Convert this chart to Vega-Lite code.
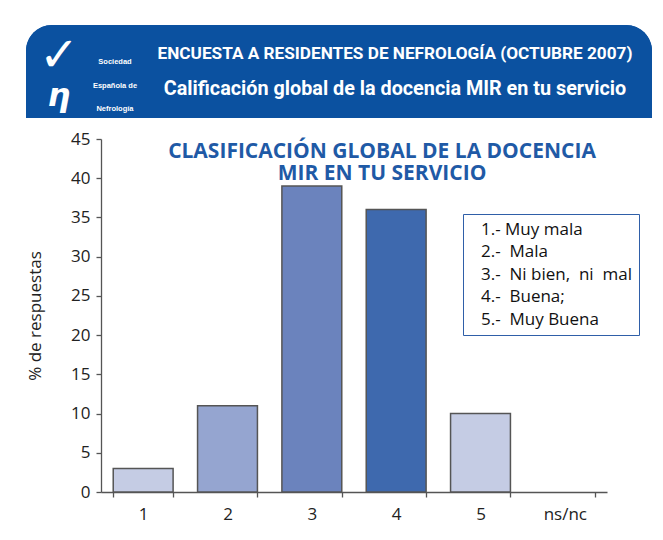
{
  "$schema": "https://vega.github.io/schema/vega-lite/v6.json",
  "padding": {"left": 26, "top": 25, "right": 0, "bottom": 0},
  "background": "white",
  "columns": 1,
  "spacing": 12,
  "align": "none",
  "bounds": "full",
  "resolve": {
    "scale": {"x": "independent", "y": "independent", "size": "independent", "color": "independent"},
    "legend": {"color": "independent", "size": "independent"}
  },
  "config": {"view": {"stroke": null}, "font": "Open Sans"},
  "datasets": {
    "logo": [{"simbolo": "✓"}, {"simbolo": "η"}],
    "sociedad": [
      {"orden": 1, "linea": "Sociedad"},
      {"orden": 2, "linea": "Española de"},
      {"orden": 3, "linea": "Nefrología"}
    ],
    "cabecera": [
      {"linea": 1, "texto": "ENCUESTA A RESIDENTES DE NEFROLOGÍA (OCTUBRE 2007)"},
      {"linea": 2, "texto": "Calificación global de la docencia MIR en tu servicio"}
    ],
    "respuestas": [
      {"calificacion": "1", "leyenda": "1.- Muy mala", "pct": 3},
      {"calificacion": "2", "leyenda": "2.- \u00a0Mala", "pct": 11},
      {"calificacion": "3", "leyenda": "3.- \u00a0Ni bien, \u00a0ni \u00a0mal", "pct": 39},
      {"calificacion": "4", "leyenda": "4.- \u00a0Buena;", "pct": 36},
      {"calificacion": "5", "leyenda": "5.- \u00a0Muy Buena", "pct": 10},
      {"calificacion": "ns/nc", "leyenda": "ns/nc", "pct": 0}
    ]
  },
  "concat": [
    {
      "spacing": 0,
      "bounds": "flush",
      "resolve": {"scale": {"y": "independent", "size": "independent"}},
      "hconcat": [
        {
          "width": 66,
          "height": 93,
          "data": {"name": "logo"},
          "layer": [
            {"mark": {"type": "rect", "color": "#0b51a0", "cornerRadiusTopLeft": 26}, "encoding": {}},
            {
              "mark": {"type": "text", "color": "white", "font": "DejaVu Sans", "fontWeight": "bold", "fontStyle": "italic"},
              "encoding": {
                "text": {"field": "simbolo"},
                "y": {"field": "simbolo", "type": "ordinal", "sort": ["✓", "η"], "axis": null, "scale": {"padding": 0.692, "align": 0.593}},
                "size": {"field": "simbolo", "type": "ordinal", "scale": {"domain": ["✓", "η"], "range": [48, 32]}, "legend": null}
              }
            }
          ]
        },
        {
          "width": 46,
          "height": 93,
          "data": {"name": "sociedad"},
          "layer": [
            {"mark": {"type": "rect", "color": "#0b51a0"}, "encoding": {}},
            {
              "mark": {"type": "text", "color": "white", "fontSize": 7.5, "fontWeight": "bold", "font": "Liberation Sans"},
              "encoding": {
                "text": {"field": "linea"},
                "y": {"field": "orden", "type": "ordinal", "axis": null, "scale": {"padding": 3.227, "align": 0.803}}
              }
            }
          ]
        },
        {
          "width": 514,
          "height": 93,
          "data": {"name": "cabecera"},
          "layer": [
            {"mark": {"type": "rect", "color": "#0b51a0", "cornerRadiusTopRight": 26}, "encoding": {}},
            {
              "mark": {"type": "text", "color": "white", "fontWeight": "bold", "font": "Roboto"},
              "encoding": {
                "text": {"field": "texto"},
                "y": {"field": "linea", "type": "ordinal", "axis": null, "scale": {"padding": 0.85}},
                "size": {"field": "linea", "type": "ordinal", "scale": {"domain": [1, 2], "range": [17.2, 19.8]}, "legend": null}
              }
            }
          ]
        }
      ]
    },
    {
      "spacing": 0,
      "bounds": "flush",
      "resolve": {"scale": {"y": "independent"}},
      "data": {"name": "respuestas"},
      "transform": [{"filter": "datum.pct > 0"}],
      "hconcat": [
        {
          "width": 75,
          "height": 353,
          "mark": {"type": "point", "opacity": 0},
          "encoding": {
            "y": {
              "field": "pct",
              "type": "quantitative",
              "scale": {"domain": [0, 45], "nice": false},
              "axis": {
                "title": "% de respuestas",
                "offset": -75,
                "titleFont": "Open Sans",
                "titleFontSize": 17,
                "titleFontWeight": "normal",
                "titleColor": "#222222",
                "titlePadding": 26,
                "values": [0, 5, 10, 15, 20, 25, 30, 35, 40, 45],
                "labelFontSize": 17,
                "labelFont": "Open Sans",
                "labelColor": "#222222",
                "labelPadding": 6,
                "tickSize": 5,
                "grid": false,
                "domainColor": "#555555",
                "tickColor": "#555555",
                "domainWidth": 1.3,
                "tickWidth": 1.3
              }
            }
          }
        },
        {
          "width": 506,
          "height": 353,
          "title": {
            "text": ["CLASIFICACIÓN GLOBAL DE LA DOCENCIA", "MIR EN TU SERVICIO"],
            "color": "#1f5aa6",
            "font": "Open Sans",
            "fontSize": 21,
            "fontWeight": "bold",
            "lineHeight": 22,
            "offset": -45,
            "dx": 28,
            "anchor": "middle"
          },
          "mark": {"type": "bar", "stroke": "#555555", "strokeWidth": 1.5},
          "encoding": {
            "x": {
              "field": "calificacion",
              "type": "nominal",
              "scale": {"domain": ["1", "2", "3", "4", "5", "ns/nc"], "paddingInner": 0.29, "paddingOuter": 0.145},
              "axis": {
                "title": null,
                "labelAngle": 0,
                "tickBand": "extent",
                "labelFontSize": 17,
                "labelFont": "Open Sans",
                "labelColor": "#222222",
                "labelPadding": 9,
                "tickSize": 5,
                "domainColor": "#555555",
                "tickColor": "#555555",
                "domainWidth": 1.3,
                "tickWidth": 1.3
              }
            },
            "y": {
              "field": "pct",
              "type": "quantitative",
              "scale": {"domain": [0, 45], "nice": false},
              "axis": null
            },
            "color": {
              "field": "leyenda",
              "type": "nominal",
              "scale": {
                "domain": ["1.- Muy mala", "2.- \u00a0Mala", "3.- \u00a0Ni bien, \u00a0ni \u00a0mal", "4.- \u00a0Buena;", "5.- \u00a0Muy Buena"],
                "range": ["#c5cce4", "#95a5d0", "#6b83bd", "#3e69ae", "#c5cce4"]
              },
              "legend": {
                "title": null,
                "orient": "none",
                "legendX": 437,
                "legendY": 75,
                "symbolSize": 0,
                "symbolStrokeWidth": 0,
                "symbolOpacity": 0,
                "strokeColor": "#2f5fa8",
                "fillColor": "white",
                "padding": 7,
                "labelOffset": -6,
                "labelFontSize": 17,
                "labelFont": "Open Sans",
                "labelColor": "#111111",
                "rowPadding": 4.5,
                "labelLimit": 300
              }
            }
          }
        }
      ]
    }
  ]
}
